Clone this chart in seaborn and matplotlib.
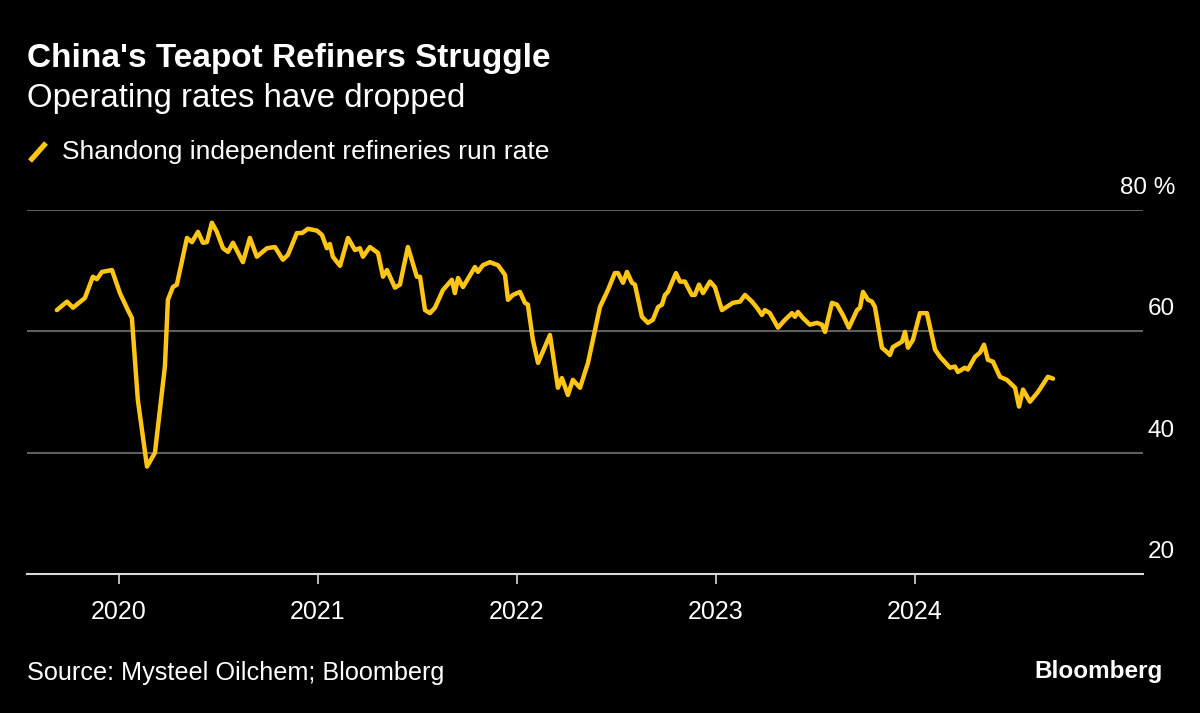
import matplotlib
matplotlib.use("Agg")
import matplotlib.pyplot as plt
from matplotlib.lines import Line2D
from matplotlib.transforms import blended_transform_factory
import seaborn as sns
import pandas as pd

# ---- data (time as decimal year, value in %) ----
years = [
    2019.688, 2019.739, 2019.769, 2019.829, 2019.869, 2019.889, 2019.915, 2019.965,
    2020.005, 2020.045, 2020.065, 2020.095, 2020.141, 2020.181, 2020.231, 2020.246,
    2020.271, 2020.291, 2020.342, 2020.367, 2020.397, 2020.422, 2020.442, 2020.467,
    2020.492, 2020.523, 2020.548, 2020.573, 2020.623, 2020.658, 2020.693, 2020.744,
    2020.784, 2020.824, 2020.849, 2020.894, 2020.920, 2020.950, 2020.995, 2021.020,
    2021.045, 2021.060, 2021.075, 2021.111, 2021.151, 2021.186, 2021.211, 2021.226,
    2021.261, 2021.302, 2021.327, 2021.347, 2021.387, 2021.412, 2021.452, 2021.497,
    2021.513, 2021.538, 2021.563, 2021.588, 2021.628, 2021.673, 2021.688, 2021.704,
    2021.729, 2021.789, 2021.804, 2021.829, 2021.864, 2021.905, 2021.940, 2021.955,
    2021.980, 2022.015, 2022.040, 2022.055, 2022.080, 2022.106, 2022.166, 2022.206,
    2022.226, 2022.256, 2022.281, 2022.317, 2022.357, 2022.417, 2022.457, 2022.492,
    2022.508, 2022.533, 2022.553, 2022.578, 2022.593, 2022.628, 2022.658, 2022.683,
    2022.709, 2022.729, 2022.744, 2022.759, 2022.799, 2022.819, 2022.844, 2022.879,
    2022.894, 2022.915, 2022.935, 2022.970, 2022.995, 2023.030, 2023.085, 2023.121,
    2023.146, 2023.181, 2023.206, 2023.231, 2023.246, 2023.271, 2023.312, 2023.347,
    2023.382, 2023.397, 2023.412, 2023.437, 2023.472, 2023.508, 2023.533, 2023.548,
    2023.583, 2023.608, 2023.638, 2023.668, 2023.709, 2023.724, 2023.739, 2023.764,
    2023.784, 2023.799, 2023.834, 2023.859, 2023.874, 2023.889, 2023.935, 2023.950,
    2023.965, 2023.990, 2024.025, 2024.060, 2024.101, 2024.126, 2024.176, 2024.201,
    2024.216, 2024.251, 2024.266, 2024.302, 2024.327, 2024.347, 2024.367, 2024.392,
    2024.427, 2024.462, 2024.487, 2024.503, 2024.523, 2024.543, 2024.578, 2024.618,
    2024.668, 2024.694,
]
run_rate = [
    63.5, 64.9, 63.9, 65.5, 69.0, 68.6, 69.8, 70.1,
    66.3, 63.5, 62.2, 48.7, 37.7, 40.0, 54.2, 65.2,
    67.3, 67.7, 75.4, 74.7, 76.4, 74.6, 74.7, 77.9,
    76.4, 73.7, 73.1, 74.6, 71.4, 75.4, 72.3, 73.7,
    73.9, 71.8, 72.6, 76.2, 76.2, 76.9, 76.6, 75.9,
    73.7, 74.4, 72.3, 70.8, 75.4, 73.4, 73.7, 72.3,
    73.9, 72.9, 69.0, 70.1, 67.2, 67.7, 73.9, 69.0,
    69.0, 63.5, 63.0, 63.9, 66.8, 68.5, 66.3, 68.8,
    67.3, 70.6, 69.8, 70.9, 71.4, 70.9, 69.3, 65.2,
    66.0, 66.5, 64.7, 64.4, 58.6, 54.8, 59.4, 50.7,
    52.3, 49.5, 52.0, 50.7, 54.8, 64.0, 66.8, 69.6,
    69.6, 68.0, 69.8, 68.0, 67.7, 62.4, 61.4, 61.9,
    64.0, 64.4, 66.0, 66.5, 69.6, 68.2, 68.2, 66.0,
    66.0, 67.7, 66.3, 68.2, 67.3, 63.5, 64.7, 64.9,
    66.0, 64.9, 63.9, 62.7, 63.5, 63.0, 60.6, 61.9,
    63.0, 62.4, 63.2, 62.2, 61.1, 61.4, 61.1, 59.9,
    64.7, 64.4, 62.7, 60.6, 63.5, 63.9, 66.5, 65.2,
    64.9, 64.0, 57.3, 56.6, 56.1, 57.4, 58.3, 59.9,
    57.3, 58.6, 63.0, 63.0, 57.0, 55.8, 54.0, 54.2,
    53.3, 54.0, 53.7, 55.8, 56.5, 57.8, 55.3, 55.0,
    52.5, 52.0, 51.2, 50.7, 47.6, 50.4, 48.4, 50.0,
    52.5, 52.2,
]
x_ticks = [2020, 2021, 2022, 2023, 2024]
x_tick_labels = ["2020", "2021", "2022", "2023", "2024"]
y_ticks = [20, 40, 60, 80]
y_tick_labels = ["20", "40", "60", "80 %"]

title = "China's Teapot Refiners Struggle"
subtitle = "Operating rates have dropped"
series_name = "Shandong independent refineries run rate"
source = "Source: Mysteel Oilchem; Bloomberg"

df = pd.DataFrame({"year": years, "rate": run_rate})

# ---- style ----
YELLOW = "#FFC515"
sns.set_theme(style="dark", rc={
    "figure.facecolor": "black",
    "axes.facecolor": "black",
    "savefig.facecolor": "black",
})
plt.rcParams["font.family"] = ["Liberation Sans", "DejaVu Sans"]

W, H = 1200, 713
fig = plt.figure(figsize=(12, 7.13), dpi=100)
ax_left, ax_right = 27 / W, 1143 / W
ax_bottom, ax_top = 1 - 574 / H, 1 - 210 / H
ax = fig.add_axes([ax_left, ax_bottom, ax_right - ax_left, ax_top - ax_bottom])

sns.lineplot(data=df, x="year", y="rate", ax=ax, color=YELLOW, linewidth=3.2,
             solid_joinstyle="round", solid_capstyle="round", legend=False)

ax.set_xlim(2019.538, 2025.146)
ax.set_ylim(20, 80)
ax.set_xlabel("")
ax.set_ylabel("")

# gridlines
for v in y_ticks[1:]:
    ax.axhline(v, color="#5e5e5e", linewidth=1.5, zorder=0)

for s in ["top", "right", "left"]:
    ax.spines[s].set_visible(False)
ax.spines["bottom"].set_visible(True)
ax.spines["bottom"].set_color("#d9d9d9")
ax.spines["bottom"].set_linewidth(1.5)

ax.set_xticks(x_ticks)
ax.set_xticklabels(x_tick_labels, color="white", fontsize=18)
ax.tick_params(axis="x", bottom=True, length=7, width=1.2, color="#d9d9d9", pad=12)
ax.set_yticks([])
ax.grid(False)

# right-side y labels sitting above their gridlines
trans = blended_transform_factory(ax.transAxes, ax.transData)
for v, lab in zip(y_ticks, y_tick_labels):
    ax.text(1.0287, v + 2.65, lab, transform=trans, ha="right", va="baseline",
            color="white", fontsize=17.5)

# titles
fig.text(27 / W, 1 - 67 / H, title, color="white", fontsize=24, fontweight="bold",
         ha="left", va="baseline")
fig.text(27 / W, 1 - 107 / H, subtitle, color="white", fontsize=23.8,
         ha="left", va="baseline")

# legend
fig.add_artist(Line2D([30 / W, 46 / W], [1 - 161 / H, 1 - 143 / H],
                      transform=fig.transFigure, color=YELLOW, linewidth=3.8,
                      solid_capstyle="butt"))
fig.text(62 / W, 1 - 159 / H, series_name, color="white", fontsize=19,
         ha="left", va="baseline")

# footer
fig.text(27 / W, 1 - 680 / H, source, color="white", fontsize=18.2,
         ha="left", va="baseline")
fig.text(1163 / W, 1 - 678 / H, "Bloomberg", color="white", fontsize=17.5,
         fontweight="bold", ha="right", va="baseline")

fig.savefig("out.png", dpi=100, facecolor="black")
